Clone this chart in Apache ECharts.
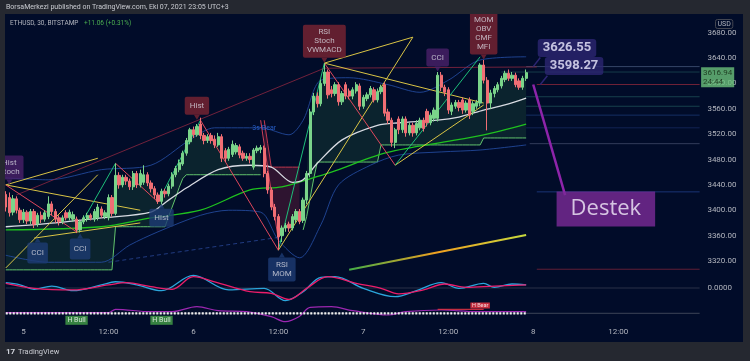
<!DOCTYPE html>
<html><head><meta charset="utf-8">
<script src="https://cdn.jsdelivr.net/npm/echarts@6/dist/echarts.min.js"></script>
<style>html,body{margin:0;padding:0;background:#22252e}#c{width:750px;height:361px}</style>
</head><body><div id="c"></div>
<script>
const FONT = 'Roboto, "Noto Sans", sans-serif';
const BAR0 = -5;          // first candle: 5 bars before Oct 5 00:00 (30m bars)
const NCAT = 197;         // categories incl. empty right margin

// ---- candles [open, close, low, high] ----
const candles = [
[3425,3405,3398,3430],[3420,3396,3390,3428],[3397,3418,3392,3424],[3418,3400,3395,3422],[3400,3385,3380,3404],
[3385,3397,3380,3402],[3397,3383,3378,3400],[3383,3398,3378,3402],[3398,3378,3372,3402],[3378,3392,3374,3396],
[3392,3386,3380,3398],[3386,3396,3382,3400],[3390,3410,3386,3422],[3410,3398,3392,3414],[3398,3386,3380,3402],
[3388,3382,3376,3392],[3382,3388,3378,3392],[3396,3388,3384,3400],[3388,3397,3384,3401],[3386,3393,3382,3398],
[3386,3369,3364,3390],[3369,3382,3365,3385],[3382,3388,3378,3392],[3386,3392,3382,3396],[3392,3388,3384,3395],
[3386,3398,3382,3402],[3388,3405,3384,3410],[3402,3392,3388,3406],[3390,3396,3386,3400],[3388,3420,3384,3425],
[3420,3395,3390,3424],[3395,3455,3392,3474],[3455,3440,3434,3460],[3440,3452,3436,3456],[3452,3446,3440,3456],
[3446,3437,3432,3450],[3437,3458,3432,3462],[3458,3440,3435,3462],[3440,3458,3436,3464],[3444,3456,3440,3471],
[3456,3443,3438,3460],[3443,3434,3428,3447],[3434,3424,3418,3438],[3424,3414,3410,3428],[3414,3430,3408,3434],
[3430,3426,3420,3434],[3426,3438,3422,3442],[3438,3456,3434,3460],[3456,3466,3452,3470],[3464,3475,3460,3480],
[3473,3490,3470,3494],[3490,3510,3486,3514],[3508,3527,3504,3530],[3527,3519,3514,3532],[3519,3532,3516,3536],
[3536,3518,3512,3546],[3518,3510,3504,3522],[3510,3516,3506,3520],[3518,3510,3505,3522],[3512,3503,3498,3518],
[3503,3516,3500,3522],[3516,3482,3476,3520],[3494,3482,3476,3498],[3482,3496,3478,3500],[3488,3504,3484,3510],
[3492,3502,3488,3506],[3500,3487,3482,3504],[3490,3482,3478,3494],[3482,3485,3478,3490],[3485,3480,3474,3490],
[3468,3495,3464,3498],[3494,3498,3490,3502],[3496,3499,3490,3503],[3498,3458,3452,3502],[3458,3432,3426,3462],
[3432,3405,3400,3436],[3405,3390,3384,3410],[3390,3358,3337,3394],[3360,3372,3350,3376],[3372,3376,3366,3380],
[3378,3372,3366,3382],[3372,3390,3368,3394],[3385,3398,3380,3402],[3398,3382,3378,3402],[3384,3416,3380,3420],
[3416,3458,3410,3462],[3458,3555,3452,3560],[3555,3580,3550,3585],[3580,3568,3562,3586],[3568,3600,3564,3606],
[3600,3618,3596,3632],[3618,3582,3576,3622],[3590,3584,3578,3596],[3584,3598,3580,3602],[3598,3571,3565,3602],
[3571,3584,3566,3588],[3598,3580,3575,3602],[3588,3580,3575,3592],[3580,3590,3575,3594],[3588,3598,3584,3602],
[3596,3564,3558,3600],[3564,3578,3560,3582],[3576,3582,3572,3586],[3582,3592,3578,3596],[3590,3574,3570,3594],
[3574,3587,3570,3592],[3587,3594,3583,3598],[3598,3553,3548,3602],[3555,3542,3536,3560],[3542,3507,3500,3546],
[3507,3527,3498,3530],[3544,3527,3520,3548],[3527,3544,3522,3548],[3544,3522,3516,3548],[3522,3534,3518,3538],
[3534,3522,3516,3538],[3522,3537,3518,3542],[3530,3542,3526,3546],[3542,3529,3524,3546],[3556,3538,3532,3560],
[3538,3550,3534,3554],[3545,3558,3540,3562],[3545,3613,3540,3618],[3613,3594,3588,3618],[3594,3586,3580,3598],
[3590,3558,3552,3594],[3556,3566,3550,3570],[3564,3570,3560,3574],[3570,3562,3556,3574],[3574,3558,3552,3578],
[3558,3569,3554,3573],[3574,3550,3544,3578],[3556,3568,3550,3572],[3564,3570,3560,3574],[3569,3629,3564,3632],
[3629,3605,3600,3637],[3605,3569,3526,3610],[3569,3585,3560,3590],[3584,3592,3578,3596],[3590,3598,3586,3602],
[3596,3608,3592,3612],[3606,3616,3602,3620],[3616,3608,3604,3622],[3608,3613,3604,3618],[3613,3598,3594,3617],
[3604,3594,3590,3608],[3594,3608,3590,3612],[3608,3617,3604,3622]
];
const lastPrice = 3616.94;
const lastPriceTimer = '24:44';

// ---- supertrend-like cloud steps [fromBar, toBar, level] (bar 0 = Oct 5 00:00) ----
const stUpSeg = [[-5,25,3306],[26,40,3374],[41,41,3390],[42,42,3405],[43,43,3420],[44,44,3436],[45,45,3450],
  [46,67,3456],[79,79,3369],[80,80,3390],[81,81,3420],[82,82,3450],[83,100,3476],[101,129,3503],[130,142,3514]];
const stDnSeg = [[68,68,3542],[69,69,3505],[70,78,3468]];

// ---- overlays, points as [categoryIndex, price] ----
const whiteMA = [[0,3374],[14,3380],[27,3388],[41,3397],[46,3416],[51,3435],[60,3464],[69,3471],[75,3468],[81,3444],[84,3448],[88,3474],[95,3511],[105,3534],[111,3538],[122,3542],[128,3547],[135,3558],[141,3566],[147,3577]];
const greenMA = [[0,3369],[27,3374],[41,3388],[55,3400],[69,3432],[78,3437],[85,3448],[92,3460],[107,3490],[122,3506],[135,3519],[147,3536]];
const bandUp = [[0,3451],[12,3448],[27,3464],[41,3471],[52,3511],[59,3530],[72,3530],[80,3519],[84,3542],[89,3605],[97,3609],[108,3598],[117,3586],[125,3605],[134,3637],[147,3642]];
const bandDn = [[0,3329],[12,3318],[27,3318],[35,3345],[43,3366],[55,3392],[63,3400],[72,3397],[77,3353],[83,3325],[89,3377],[94,3440],[103,3471],[111,3487],[123,3492],[134,3495],[147,3503]];
const zigzag = [[0,3440],[20,3366],[31,3474],[43,3413],[55,3542],[77,3337],[90,3632],[110,3471],[134,3642]];
const yellowLines = [
  [[0,3440],[26,3482]], [[0,3440],[38,3400]], [[0,3309],[26,3456]], [[8,3356],[38,3380]],
  [[90,3632],[115,3673]], [[115,3673],[77,3337]], [[90,3632],[135,3569]], [[110,3471],[135,3566]]
];
const maroonLine = [[3,3424],[90,3624],[150,3626]];
const pinkLine = [[72,3542],[77,3353]];
const dashedBlue = [[29,3318],[78,3358]];
const gradLine = [[97,3306],[147,3361]];
const levels = [[147,3626.55,'rgba(120,140,180,0.45)'],[140,3618,'rgba(40,100,100,0.55)'],[150,3598.27,'rgba(140,40,60,0.8)'],
  [147,3579,'rgba(38,100,100,0.6)'],[147,3564,'rgba(38,100,100,0.6)'],[147,3550,'rgba(35,70,140,0.6)'],
  [147,3530,'rgba(35,60,130,0.5)'],[148,3505,'rgba(110,120,150,0.45)'],[150,3429,'rgba(35,70,150,0.7)'],[150,3307,'rgba(140,40,60,0.7)']];

// ---- signal labels ----
const marks = [
  {k:1,   p:3440, text:'Hist\nStoch',         bg:'#4a2169', pos:'top'},
  {k:9,   p:3358, text:'CCI',                 bg:'#1d3b73', pos:'bottom'},
  {k:21,  p:3364, text:'CCI',                 bg:'#1d3b73', pos:'bottom'},
  {k:44,  p:3411, text:'Hist',                bg:'#1d3b73', pos:'bottom'},
  {k:54,  p:3542, text:'Hist',                bg:'#7a2432', pos:'top'},
  {k:78,  p:3334, text:'RSI\nMOM',            bg:'#1d3b73', pos:'bottom'},
  {k:90,  p:3632, text:'RSI\nStoch\nVWMACD',  bg:'#7a2432', pos:'top'},
  {k:122, p:3618, text:'CCI',                 bg:'#4a2169', pos:'top'},
  {k:135, p:3637, text:'MOM\nOBV\nCMF\nMFI',  bg:'#7a2432', pos:'top'}
];
const calloutVals = [[149,3626.55],[151,3598.27]];
const destekLine = [[149,3598.27],[158,3424]];
const destekText = 'Destek';

// ---- oscillator panes ----
const oscMagenta = [[0,0.29],[8,-0.02],[19,-0.12],[29,0.19],[34,0.33],[41,0.08],[47,-0.08],[53,0.71],[59,0.39],[69,-0.23],[75,-0.33],[80,-0.71],[85,-0.02],[91,0.71],[99,0.29],[106,-0.02],[111,-0.37],[118,-0.12],[124,0.25],[130,0.04],[138,0.12],[147,0.19]];
const oscCyan = [[0,0.33],[4,0.2],[8,-0.08],[13,0.12],[19,-0.17],[27,0.19],[31,0.39],[37,0.2],[44,-0.17],[53,0.79],[63,-0.12],[73,-0.02],[79,-0.79],[84,-0.23],[89,0.67],[93,0.71],[101,-0.02],[110,-0.54],[116,-0.17],[123,0.33],[128,-0.02],[135,0.29],[138,0.04],[143,0.25],[147,0.19]];
const purpleOsc = [[0,0.06],[29,0.06],[31,0.4],[41,0.16],[47,0.16],[54,0.66],[60,0.26],[68,0.16],[75,-0.34],[79,-0.84],[83,-0.3],[86,0.6],[92,0.66],[98,0.26],[108,-0.17],[113,0.16],[123,0.33],[133,0.16],[147,0.16]];
const squeezeLine = [[0,0],[147,0]];
const bullLabels = [[20,-0.7],[44,-0.7]];
const bearLabel = [134,0.78];
const bearLine = [[122,0.4],[135,0.4]];

// ---- time categories ----
const categories = [];
for (let k = 0; k < NCAT; k++) {
  const m = (k + BAR0) * 30;
  const d = 5 + Math.floor(m / 1440);
  const r = ((m % 1440) + 1440) % 1440;
  const hh = String(Math.floor(r / 60)).padStart(2, '0'), mm = String(r % 60).padStart(2, '0');
  categories.push(d + ' ' + hh + ':' + mm);
}

// ---- derived series ----
const N = candles.length;
function expand(segs) { const a = new Array(N).fill('-'); segs.forEach(([s, e, v]) => { for (let i = s; i <= e; i++) a[i - BAR0] = v; }); return a; }
const stUp = expand(stUpSeg), stDn = expand(stDnSeg);
const gDiff = stUp.map((v, j) => v === '-' ? '-' : Math.max(candles[j][0], candles[j][1]) - v);
const rBase = stDn.map((v, j) => v === '-' ? '-' : Math.min(candles[j][0], candles[j][1]));
const rDiff = stDn.map((v, j) => v === '-' ? '-' : v - rBase[j]);

function ln(data, color, width, extra) {
  return Object.assign({ type: 'line', xAxisIndex: 0, yAxisIndex: 0, data: data, symbol: 'none', silent: true,
    lineStyle: { color: color, width: width }, z: 3, animation: false }, extra || {});
}
const series = [];
// cloud fills
series.push({ type: 'line', data: stUp, stack: 'g', symbol: 'none', lineStyle: { color: '#62c46d', width: 1 }, z: 2, silent: true });
series.push({ type: 'line', data: gDiff, stack: 'g', symbol: 'none', lineStyle: { width: 0, opacity: 0 }, areaStyle: { color: 'rgba(76,175,80,0.20)' }, z: 1, silent: true });
series.push({ type: 'line', data: rBase, stack: 'r', symbol: 'none', lineStyle: { width: 0, opacity: 0 }, z: 1, silent: true });
series.push({ type: 'line', data: rDiff, stack: 'r', symbol: 'none', lineStyle: { width: 0, opacity: 0 }, areaStyle: { color: 'rgba(190,45,70,0.35)' }, z: 1, silent: true });
series.push(ln(stDn, '#c2384f', 1));
// bands & MAs
series.push(ln(bandUp, 'rgba(35,75,160,0.85)', 1, { smooth: 0.3 }));
series.push(ln(bandDn, 'rgba(35,75,160,0.85)', 1, { smooth: 0.3 }));
series.push(ln(greenMA, '#1fc21f', 1.3, { smooth: 0.3 }));
series.push(ln(whiteMA, '#d8dbe2', 1.3, { smooth: 0.3 }));
// trend lines
series.push(ln(maroonLine, 'rgba(150,40,65,0.75)', 1));
series.push(ln(dashedBlue, 'rgba(40,70,150,0.8)', 1, { lineStyle: { color: 'rgba(40,70,150,0.8)', width: 1, type: [4, 3] } }));
series.push(ln(pinkLine, '#d0405a', 1));
yellowLines.forEach(s => series.push(ln(s, '#d9c445', 1)));
for (let i = 0; i < zigzag.length - 1; i++) {
  const down = zigzag[i + 1][1] < zigzag[i][1];
  series.push(ln([zigzag[i], zigzag[i + 1]], down ? '#e0475c' : '#1dbf7a', 1));
}
series.push(ln(gradLine, '#4caf50', 2, { lineStyle: { width: 2, color: { type: 'linear', x: 0, y: 0, x2: 1, y2: 0,
  colorStops: [{ offset: 0, color: '#3fae49' }, { offset: 0.5, color: '#f0a020' }, { offset: 1, color: '#c6dc3e' }] } } }));
levels.forEach(([s, p, c]) => series.push(ln([[s, p], [NCAT - 1, p]], c, 1, { z: 2 })));
// candles
series.push({ type: 'candlestick', xAxisIndex: 0, yAxisIndex: 0, data: candles, barWidth: 2.8, z: 5, silent: true,
  itemStyle: { color: '#7ad48a', color0: '#f06e74', borderColor: '#7ad48a', borderColor0: '#f06e74', borderWidth: 1 } });
// callout tails + destek line
series.push(ln([calloutVals[0], [151, 3641]], '#2c2572', 1.5, { z: 8 }));
series.push(ln([calloutVals[1], [153, 3612]], '#2c2572', 1.5, { z: 8 }));
series.push(ln(destekLine, '#8e24aa', 2.5, { z: 8 }));
// signal label boxes
series.push({ type: 'scatter', xAxisIndex: 0, yAxisIndex: 0, silent: true, z: 10, symbolSize: [6, 5], symbol: 'triangle',
  data: marks.map(m => ({ value: [m.k, m.p], symbolRotate: m.pos === 'top' ? 180 : 0, symbolOffset: m.pos === 'top' ? [0, -3] : [0, 3], itemStyle: { color: m.bg } })) });
series.push({ type: 'scatter', xAxisIndex: 0, yAxisIndex: 0, silent: true, z: 11, symbolSize: 1, itemStyle: { color: 'rgba(0,0,0,0)' },
  data: marks.map(m => ({ value: [m.k, m.p], label: { show: true, position: m.pos, distance: 5, formatter: m.text,
    backgroundColor: m.bg, color: '#d9d9e2', fontSize: 8, lineHeight: 9, fontFamily: FONT,
    padding: m.text.indexOf('\n') >= 0 ? [3, 4] : (m.pos === 'bottom' && m.text === 'CCI' ? [6, 4] : [4.5, 5]), borderRadius: 2 } })) });
// 3s-Bear text
series.push({ type: 'scatter', xAxisIndex: 0, yAxisIndex: 0, silent: true, z: 11, symbolSize: 1, itemStyle: { color: 'rgba(0,0,0,0)' },
  data: [{ value: [73, 3530], label: { show: true, position: 'inside', formatter: '3s-Bear', color: '#2f6fe8', fontSize: 7, fontFamily: FONT } }] });
// callouts and Destek box
series.push({ type: 'scatter', xAxisIndex: 0, yAxisIndex: 0, silent: true, z: 12, symbolSize: 1, itemStyle: { color: 'rgba(0,0,0,0)' },
  data: calloutVals.map(v => ({ value: v, label: { show: true, position: [5, -27], formatter: v[1].toFixed(2),
    backgroundColor: '#2c2572', color: '#ecebff', fontWeight: 'bold', fontSize: 13, lineHeight: 15, padding: [1.5, 5], borderRadius: 3, fontFamily: FONT } }))
    .concat([{ value: destekLine[1], label: { show: true, position: [-8, -3], formatter: destekText, backgroundColor: '#7a2b97',
      color: '#f4eefa', fontSize: 22, lineHeight: 27, padding: [4, 14], fontFamily: '"Open Sans", sans-serif' } }]) });
// last price badge
series.push({ type: 'scatter', xAxisIndex: 0, yAxisIndex: 0, silent: true, z: 12, symbolSize: 1, itemStyle: { color: 'rgba(0,0,0,0)' },
  data: [{ value: [NCAT - 1, lastPrice], label: { show: true, position: [2, -5], formatter: lastPrice.toFixed(2) + '\n' + lastPriceTimer,
    backgroundColor: '#6cc27a', color: '#10240f', fontSize: 8, lineHeight: 9, padding: [1, 2], fontFamily: FONT } }] });
// pane 2 oscillator
series.push({ type: 'line', xAxisIndex: 1, yAxisIndex: 1, data: [[0, 0], [NCAT - 1, 0]], symbol: 'none', silent: true, lineStyle: { color: 'rgba(120,123,134,0.35)', width: 1 } });
series.push({ type: 'line', xAxisIndex: 1, yAxisIndex: 1, data: oscCyan, symbol: 'none', smooth: 0.35, silent: true, lineStyle: { color: '#2ba6dc', width: 1.3 } });
series.push({ type: 'line', xAxisIndex: 1, yAxisIndex: 1, data: oscMagenta, symbol: 'none', smooth: 0.35, silent: true, lineStyle: { color: '#ec1d6a', width: 1.3 } });
// pane 3
series.push({ type: 'line', xAxisIndex: 2, yAxisIndex: 2, data: [[0, 0], [NCAT - 1, 0]], symbol: 'none', silent: true, lineStyle: { color: 'rgba(120,123,134,0.5)', width: 1 } });
series.push({ type: 'line', xAxisIndex: 2, yAxisIndex: 2, data: purpleOsc, symbol: 'none', smooth: 0.35, silent: true, lineStyle: { color: '#9c27b0', width: 1.2 } });
series.push({ type: 'line', xAxisIndex: 2, yAxisIndex: 2, data: squeezeLine, symbol: 'none', silent: true, lineStyle: { color: '#f0f0f0', width: 2.2, type: [2, 1.5] } });
series.push({ type: 'line', xAxisIndex: 2, yAxisIndex: 2, data: bearLine, symbol: 'none', silent: true, lineStyle: { color: '#f23645', width: 1 } });
series.push({ type: 'scatter', xAxisIndex: 2, yAxisIndex: 2, silent: true, z: 10, symbolSize: 1, itemStyle: { color: 'rgba(0,0,0,0)' },
  data: bullLabels.map(v => ({ value: v, label: { show: true, position: 'inside', formatter: 'H Bull', backgroundColor: '#43a047', color: '#ffffff', fontSize: 7, lineHeight: 8, padding: [0.5, 2], fontFamily: FONT } }))
    .concat([{ value: bearLabel, label: { show: true, position: 'inside', formatter: 'H Bear', backgroundColor: '#f23645', color: '#ffffff', fontSize: 5.5, lineHeight: 6, padding: [0, 1.5], fontFamily: FONT } }]) });

const GL = 4, GR = 750 - (4 + NCAT * 3.54);
const xBase = { type: 'category', data: categories, axisLine: { show: false }, axisTick: { show: false }, splitLine: { show: false } };
const option = {
  backgroundColor: '#010c29',
  animation: false,
  grid: [
    { left: GL, right: GR, top: 7.34, height: 279.0 },
    { left: GL, right: GR, top: 272, height: 32 },
    { left: GL, right: GR, top: 303.3, height: 20 }
  ],
  xAxis: [
    Object.assign({ gridIndex: 0, axisLabel: { show: false } }, xBase),
    Object.assign({ gridIndex: 1, axisLabel: { show: false } }, xBase),
    Object.assign({ gridIndex: 2, axisLabel: { show: true, color: '#b2b5be', fontSize: 8, fontFamily: FONT, margin: 5,
      interval: (i, v) => v.endsWith(' 00:00') || v.endsWith(' 12:00'),
      formatter: v => v.endsWith(' 00:00') ? v.split(' ')[0] : (v.endsWith(' 12:00') ? '12:00' : '') } }, xBase)
  ],
  yAxis: [
    { gridIndex: 0, type: 'value', position: 'right', min: 3280, max: 3720, interval: 40, axisLine: { show: false }, axisTick: { show: false }, splitLine: { show: false },
      axisLabel: { color: '#b2b5be', fontSize: 8, fontFamily: FONT, margin: 6, formatter: v => (v >= 3320 && v <= 3680) ? v.toFixed(2) : '' } },
    { gridIndex: 1, type: 'value', position: 'right', min: -1, max: 1, interval: 1, axisLine: { show: false }, axisTick: { show: false }, splitLine: { show: false },
      axisLabel: { color: '#b2b5be', fontSize: 8, fontFamily: FONT, margin: 6, formatter: v => v === 0 ? '0.0000' : '' } },
    { gridIndex: 2, type: 'value', position: 'right', min: -1, max: 1, axisLine: { show: false }, axisTick: { show: false }, splitLine: { show: false }, axisLabel: { show: false } }
  ],
  series: series,
  graphic: [
    { type: 'rect', shape: { x: 0, y: 0, width: 750, height: 14 }, style: { fill: '#252830' }, z: 100, silent: true },
    { type: 'rect', shape: { x: 0, y: 342, width: 750, height: 19 }, style: { fill: '#252830' }, z: 100, silent: true },
    { type: 'rect', shape: { x: 0, y: 0, width: 5, height: 361 }, style: { fill: '#252830' }, z: 100, silent: true },
    { type: 'rect', shape: { x: 743, y: 0, width: 7, height: 361 }, style: { fill: '#252830' }, z: 100, silent: true },
    { type: 'text', left: 6, top: 4, z: 101, silent: true, style: { text: 'BorsaMerkezi published on TradingView.com, Eki 07, 2021 23:05 UTC+3', fill: '#c9cbd1', fontSize: 7, fontFamily: FONT } },
    { type: 'text', left: 10, top: 20, z: 101, silent: true, style: { text: 'ETHUSD, 30, BITSTAMP', fill: '#b2b5be', fontSize: 6.5, fontFamily: FONT } },
    { type: 'text', left: 84, top: 20, z: 101, silent: true, style: { text: '+11.06 (+0.31%)', fill: '#4caf50', fontSize: 6.5, fontFamily: FONT } },
    { type: 'text', left: 715, top: 19, z: 101, silent: true, style: { text: 'USD', fill: '#b2b5be', fontSize: 7, fontFamily: FONT, borderColor: '#434651', borderWidth: 1, borderRadius: 2, padding: [1, 2] } },
    { type: 'text', left: 6, top: 348, z: 101, silent: true, style: { text: '17', fill: '#d1d4dc', fontSize: 8, fontWeight: 'bold', fontFamily: FONT } },
    { type: 'text', left: 18, top: 348, z: 101, silent: true, style: { text: 'TradingView', fill: '#c9cbd1', fontSize: 7.5, fontFamily: FONT } }
  ]
};
const chart = echarts.init(document.getElementById('c'), null, { renderer: 'canvas', width: 750, height: 361 });
chart.setOption(option);
</script></body></html>
